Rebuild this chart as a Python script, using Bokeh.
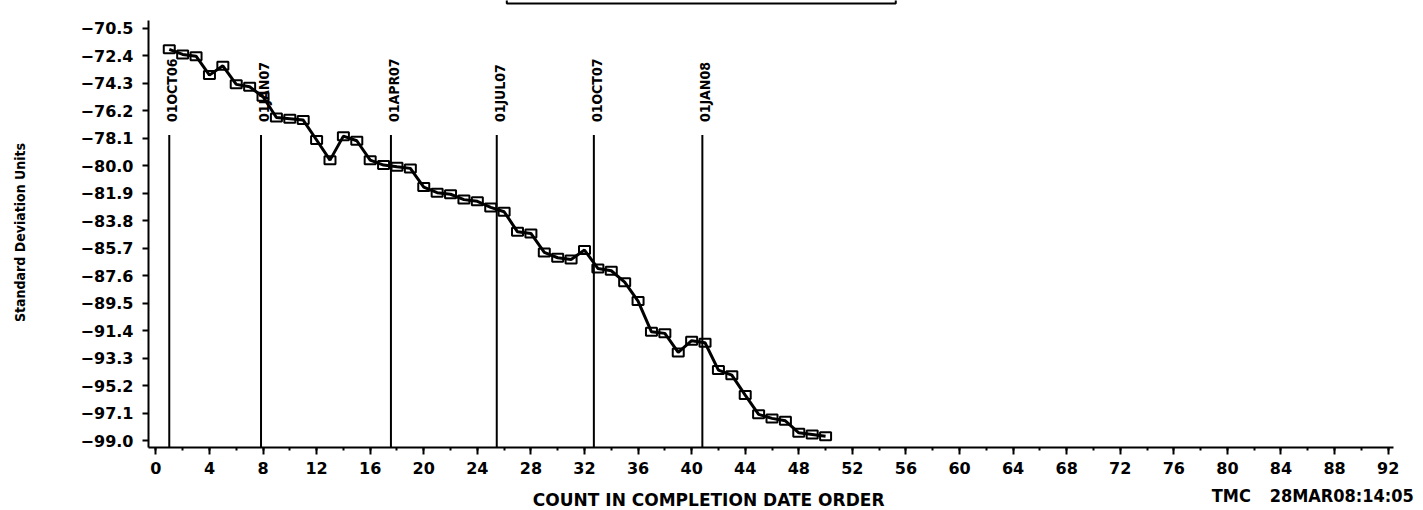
from math import pi

from bokeh.plotting import figure
from bokeh.models import (Range1d, SingleIntervalTicker, FixedTicker,
                          CustomJSTickFormatter, Label, BoxAnnotation)
from bokeh.core.properties import value
from bokeh.embed import file_html
from bokeh.resources import INLINE

# ---- data -------------------------------------------------------------
x_count = list(range(1, 51))
y_std = [
    -71.95, -72.30, -72.42, -73.73, -73.09, -74.37, -74.54, -75.23, -76.66, -76.75,
    -76.84, -78.22, -79.61, -77.95, -78.27, -79.61, -79.95, -80.07, -80.18, -81.47,
    -81.86, -81.97, -82.34, -82.46, -82.88, -83.18, -84.57, -84.68, -85.99, -86.36,
    -86.48, -85.83, -87.10, -87.26, -88.05, -89.36, -91.48, -91.59, -92.91, -92.10,
    -92.24, -94.13, -94.48, -95.86, -97.19, -97.47, -97.64, -98.47, -98.58, -98.70,
]

date_x = [1.0, 7.85, 17.55, 25.45, 32.7, 40.8]
date_labels = ["01OCT06", "01JAN07", "01APR07", "01JUL07", "01OCT07", "01JAN08"]

y_ticks = [-70.5, -72.4, -74.3, -76.2, -78.1, -80.0, -81.9, -83.8,
           -85.7, -87.6, -89.5, -91.4, -93.3, -95.2, -97.1, -99.0]

x_title = "COUNT IN COMPLETION DATE ORDER"
y_title = "Standard Deviation Units"
stamp_id = "TMC"
stamp_time = "28MAR08:14:05"

# ---- figure -----------------------------------------------------------
# where the axis lines run
X_AXIS_LO, X_AXIS_HI = -0.55, 92.4
Y_AXIS_LO, Y_AXIS_HI = -99.48, -69.93
# the frame covers the whole page; both axes are pinned inside it so the
# captions around them can be drawn as ordinary annotations
X_LO, X_HI = -11.60, 94.64
Y_LO, Y_HI = -103.84, -68.57

p = figure(width=1423, height=510, output_backend="svg", toolbar_location=None,
           x_range=Range1d(X_LO, X_HI), y_range=Range1d(Y_LO, Y_HI),
           min_border_left=0, min_border_right=0,
           min_border_top=0, min_border_bottom=0)
p.xgrid.visible = False
p.ygrid.visible = False
p.outline_line_color = None
p.background_fill_color = "white"
p.border_fill_color = "white"

WIDE = "DejaVu Sans"
NARROW = "DejaVu Sans Condensed"

# x axis
xa = p.xaxis[0]
xa.fixed_location = Y_AXIS_LO
xa.bounds = (X_AXIS_LO, X_AXIS_HI)
xa.ticker = SingleIntervalTicker(interval=4, num_minor_ticks=2)
xa.axis_line_width = 2
xa.major_tick_line_width = 2
xa.minor_tick_line_width = 2
xa.major_tick_in = 0
xa.major_tick_out = 7
xa.minor_tick_in = 0
xa.minor_tick_out = 3
xa.major_label_standoff = 8
xa.major_label_text_font = WIDE
xa.major_label_text_font_size = "16px"
xa.major_label_text_font_style = "bold"
xa.major_label_text_color = "black"

# y axis
ya = p.yaxis[0]
ya.fixed_location = X_AXIS_LO
ya.bounds = (Y_AXIS_LO, Y_AXIS_HI)
ya.ticker = FixedTicker(ticks=y_ticks, minor_ticks=[])
ya.formatter = CustomJSTickFormatter(
    code="return (tick < 0 ? '\\u2212' : '') + Math.abs(tick).toFixed(1);")
ya.axis_line_width = 2
ya.major_tick_line_width = 2
ya.major_tick_in = 0
ya.major_tick_out = 6
ya.minor_tick_line_color = None
ya.major_label_standoff = 9
ya.major_label_text_font = WIDE
ya.major_label_text_font_size = "16px"
ya.major_label_text_font_style = "bold"
ya.major_label_text_color = "black"

# title frame at the top
p.add_layout(BoxAnnotation(left=26.2, right=55.24, bottom=-68.78, top=-60,
                           fill_color=None, line_color="black", line_alpha=1.0,
                           line_width=2))

# date reference lines and their labels
LINE_TOP = -77.88
LABEL_BASE = -76.98
p.segment(x0=date_x, y0=[LINE_TOP] * len(date_x),
          x1=date_x, y1=[Y_AXIS_LO] * len(date_x),
          line_color="black", line_width=2)
p.text(x=date_x, y=[LABEL_BASE] * len(date_x), text=date_labels, angle=pi / 2,
       text_align="left", text_baseline="middle", x_offset=3,
       text_font=value(NARROW), text_font_style="bold",
       text_font_size="14px", text_color="black")

# series
p.line(x_count, y_std, line_color="black", line_width=3)
p.rect(x_count, y_std, width=11, height=8, width_units="screen", height_units="screen",
       fill_color=None, line_color="black", line_width=2)

# axis titles and time stamp
p.add_layout(Label(x=-10.18, y=-84.61, text=y_title, angle=pi / 2,
                   text_align="center", text_baseline="middle",
                   text_font=NARROW, text_font_style="bold", text_font_size="14px",
                   text_color="black"))
p.add_layout(Label(x=41.27, y=-103.08, text=x_title,
                   text_align="center", text_baseline="middle",
                   text_font=WIDE, text_font_style="bold", text_font_size="17px",
                   text_color="black"))
p.add_layout(Label(x=81.75, y=-102.8, text=stamp_id,
                   text_align="right", text_baseline="middle",
                   text_font=NARROW, text_font_style="bold", text_font_size="18px",
                   text_color="black"))
p.add_layout(Label(x=93.92, y=-102.8, text=stamp_time,
                   text_align="right", text_baseline="middle",
                   text_font=NARROW, text_font_style="bold", text_font_size="18px",
                   text_color="black"))

open("out.html", "w").write(file_html(p, INLINE))
